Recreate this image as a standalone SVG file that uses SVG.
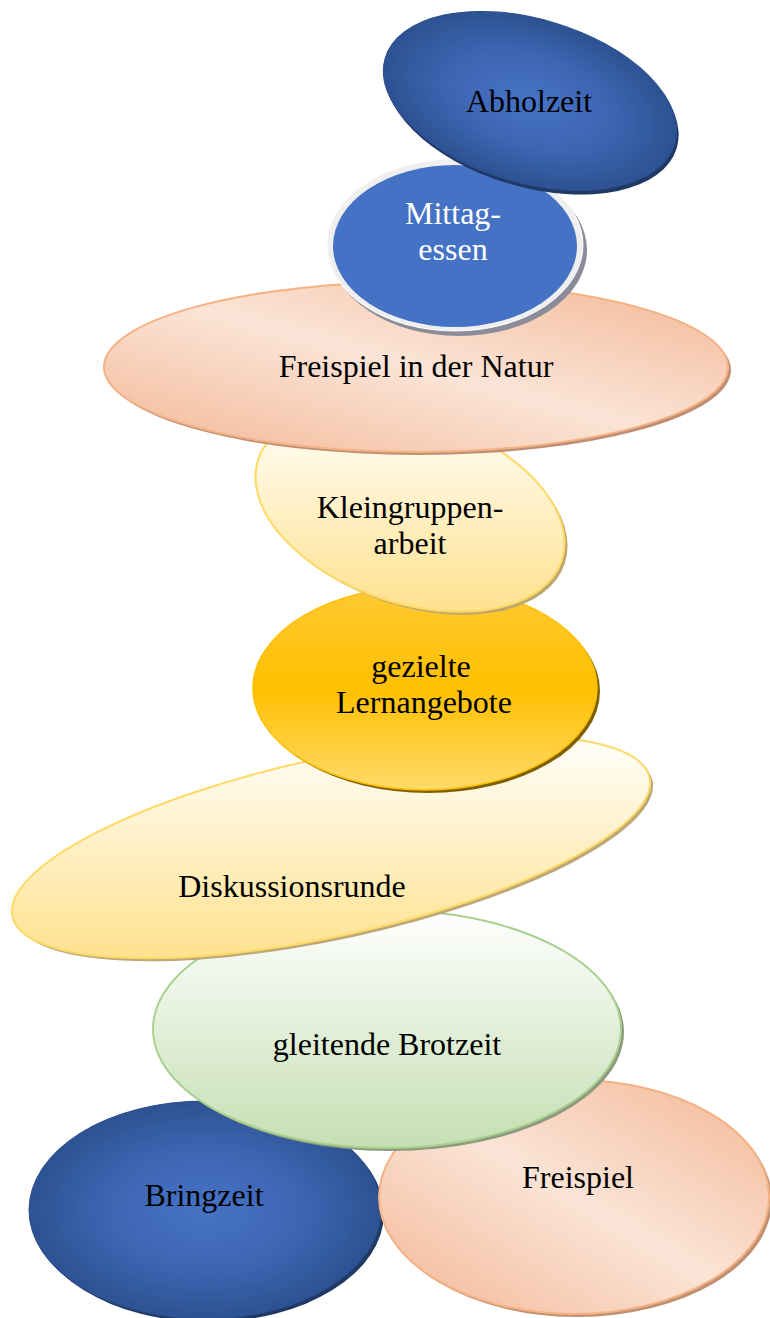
<svg xmlns="http://www.w3.org/2000/svg" width="770" height="1318" viewBox="0 0 770 1318">
  <defs>
    <radialGradient id="gBlue" cx="0.5" cy="0.5" r="0.5">
      <stop offset="0" stop-color="#4773C6"/>
      <stop offset="0.55" stop-color="#3D65B2"/>
      <stop offset="1" stop-color="#2D5292"/>
    </radialGradient>
    <linearGradient id="gPeach" x1="0" y1="1" x2="1" y2="0">
      <stop offset="0" stop-color="#F3B694"/>
      <stop offset="0.5" stop-color="#FBE4D6"/>
      <stop offset="1" stop-color="#F3B694"/>
    </linearGradient>
    <!-- cream fills run top-to-bottom on screen, so the vectors are set in each ellipse's rotated frame -->
    <linearGradient id="gCreamDisk" gradientUnits="userSpaceOnUse" x1="23.6" y1="-108.4" x2="-23.6" y2="108.4">
      <stop offset="0" stop-color="#FFFEFA"/>
      <stop offset="1" stop-color="#FFE28F"/>
    </linearGradient>
    <linearGradient id="gCreamKlein" gradientUnits="userSpaceOnUse" x1="-32.4" y1="-96.7" x2="32.4" y2="96.7">
      <stop offset="0" stop-color="#FFFEFA"/>
      <stop offset="1" stop-color="#FFE28F"/>
    </linearGradient>
    <linearGradient id="gGold" x1="0" y1="0" x2="0" y2="1">
      <stop offset="0" stop-color="#FFC934"/>
      <stop offset="0.5" stop-color="#FFC000"/>
      <stop offset="1" stop-color="#FFDA6A"/>
    </linearGradient>
    <linearGradient id="gGreen" x1="0" y1="0" x2="0" y2="1">
      <stop offset="0" stop-color="#FFFFFF"/>
      <stop offset="1" stop-color="#C5DFB3"/>
    </linearGradient>
  </defs>
  <style>
    text { font-family: "Liberation Serif", "Times New Roman", serif; font-size: 32px; fill: #000; text-anchor: middle; }
    .light { fill: #FFFFFF; }
    .blue { fill: url(#gBlue); stroke: #2A4C8A; stroke-width: 1; }
    .peach { fill: url(#gPeach); stroke: #F4B183; stroke-width: 2; }
    .cream { stroke: #FFD966; stroke-width: 2; }
    .gold { fill: url(#gGold); stroke: #FFC000; stroke-width: 1.5; }
    .green { fill: url(#gGreen); stroke: #A9D18E; stroke-width: 2; }
  </style>

  <!-- bottom row -->
  <g id="bringzeit">
    <ellipse cx="208" cy="1213" rx="176" ry="109" fill="#203864"/>
    <ellipse cx="205" cy="1210" rx="176" ry="109" class="blue"/>
    <text x="204" y="1206">Bringzeit</text>
  </g>

  <g id="freispiel">
    <ellipse cx="577" cy="1200" rx="195" ry="117" fill="#BF9072"/>
    <ellipse cx="574" cy="1197" rx="195" ry="117" class="peach"/>
    <text x="578" y="1188">Freispiel</text>
  </g>

  <g id="gleitende-brotzeit">
    <ellipse cx="390" cy="1032" rx="234" ry="119" fill="#8E9A80"/>
    <ellipse cx="387" cy="1029" rx="234" ry="119" class="green"/>
    <text x="387" y="1055">gleitende Brotzeit</text>
  </g>

  <g id="diskussionsrunde">
    <ellipse cx="0" cy="0" rx="326" ry="89" fill="#BCA878" transform="translate(334 850) rotate(-12.3)"/>
    <ellipse cx="0" cy="0" rx="326" ry="89" class="cream" fill="url(#gCreamDisk)" transform="translate(331 847) rotate(-12.3)"/>
    <text x="292" y="897">Diskussionsrunde</text>
  </g>

  <g id="gezielte-lernangebote">
    <ellipse cx="428" cy="691" rx="172" ry="102" fill="#7F6000"/>
    <ellipse cx="425" cy="688" rx="172" ry="102" class="gold"/>
    <text x="421" y="677">gezielte</text>
    <text x="424" y="713">Lernangebote</text>
  </g>

  <g id="kleingruppenarbeit">
    <ellipse cx="0" cy="0" rx="160" ry="93" fill="#BFA66E" transform="translate(413 513) rotate(18.5)"/>
    <ellipse cx="0" cy="0" rx="160" ry="93" class="cream" fill="url(#gCreamKlein)" transform="translate(410 510) rotate(18.5)"/>
    <text x="410" y="518">Kleingruppen-</text>
    <text x="410" y="554">arbeit</text>
  </g>

  <g id="freispiel-natur">
    <ellipse cx="419" cy="370" rx="312" ry="85" fill="#BD8E72"/>
    <ellipse cx="416" cy="367" rx="312" ry="85" class="peach"/>
    <text x="416" y="377">Freispiel in der Natur</text>
  </g>

  <g id="mittagessen">
    <ellipse cx="459" cy="250" rx="128" ry="86" fill="#8A8C9A"/>
    <ellipse cx="455" cy="245" rx="128" ry="86" fill="#EFEFEF" stroke="#FFFFFF" stroke-width="1"/>
    <ellipse cx="455" cy="246" rx="122" ry="81" fill="#4472C4"/>
    <text x="453" y="224" class="light">Mittag-</text>
    <text x="453" y="260" class="light">essen</text>
  </g>

  <g id="abholzeit">
    <ellipse cx="0" cy="0" rx="151" ry="82" fill="#1F3864" transform="translate(532 105) rotate(16.5)"/>
    <ellipse cx="0" cy="0" rx="151" ry="82" class="blue" transform="translate(530 101) rotate(16.5)"/>
    <text x="529" y="112">Abholzeit</text>
  </g>
</svg>
